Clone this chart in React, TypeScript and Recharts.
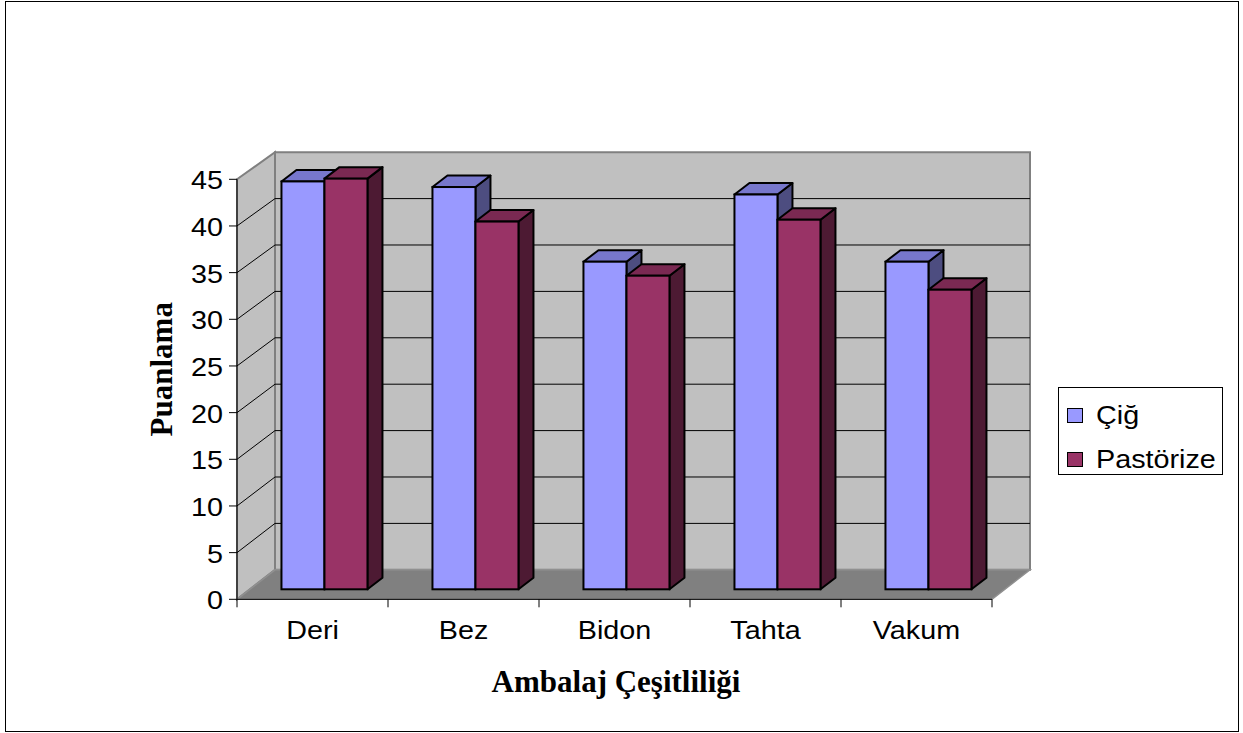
import React from 'react';
import { BarChart, Bar, XAxis, YAxis, CartesianGrid, Legend } from 'recharts';

const categories = ['Deri', 'Bez', 'Bidon', 'Tahta', 'Vakum'];
const cigValues = [43.7, 43.1, 35.1, 42.3, 35.1];
const pastorizeValues = [44.0, 39.4, 33.6, 39.6, 32.1];
const yTicks = [0, 5, 10, 15, 20, 25, 30, 35, 40, 45];
const seriesNames = ['Çiğ', 'Pastörize'];
const xTitle = 'Ambalaj Çeşitliliği';
const yTitle = 'Puanlama';

const data = categories.map((c, i) => ({ name: c, cig: cigValues[i], past: pastorizeValues[i] }));

const W = 1243;
const H = 733;
const PLOT_LEFT = 237;
const PLOT_RIGHT = 992;
const PLOT_TOP = 179.3;
const PLOT_BOTTOM = 599.3;
const YAXIS_W = 90;
const XAXIS_H = 60;
const WALL_DX = 38;
const BAR_DX = 12.3;
const BAR_DY = 10;
const DEPTH_X = 15;
const DEPTH_Y = 11.5;
const SX = 1.15;
const SANS = '"Liberation Sans", Arial, sans-serif';
const SERIF = '"Liberation Serif", "Times New Roman", serif';

const COLORS = {
  cig: { front: '#9999FF', top: '#7777CC', side: '#4D4D80' },
  past: { front: '#993366', top: '#7A2952', side: '#4D1A33' },
};

const backY = (y: number, bottom: number) => y - 29.5 + (bottom - y) * 0.0057;

const gridLine = (props: any) => {
  const { x, y, width, height, y1, index } = props;
  const bottom = y + height;
  const right = x + width;
  const bx = x + WALL_DX;
  const brx = right + WALL_DX;
  const bTop = backY(y, bottom);
  const bBot = backY(bottom, bottom);
  const isEdge = Math.abs(y1 - bottom) < 0.5 || Math.abs(y1 - y) < 0.5;
  return (
    <g key={props.key ?? `gl-${index}`}>
      {index === 0 && (
        <g>
          <polygon
            points={`${bx},${bTop} ${brx},${bTop} ${brx},${bBot} ${bx},${bBot}`}
            fill="#C0C0C0"
            stroke="#808080"
            strokeWidth={2}
          />
          <polygon
            points={`${x},${y} ${bx},${bTop} ${bx},${bBot} ${x},${bottom}`}
            fill="#C0C0C0"
            stroke="#808080"
            strokeWidth={2}
          />
          <polygon
            points={`${x},${bottom} ${right},${bottom} ${brx},${bBot} ${bx},${bBot}`}
            fill="#808080"
            stroke="#909090"
            strokeWidth={1.5}
          />
        </g>
      )}
      {!isEdge && (
        <polyline
          points={`${x},${y1} ${bx},${backY(y1, bottom)} ${brx},${backY(y1, bottom)}`}
          fill="none"
          stroke="#000"
          strokeWidth={1}
        />
      )}
    </g>
  );
};

const make3DBar = (c: { front: string; top: string; side: string }) => (props: any) => {
  const { x, y, width, height } = props;
  if (x == null || width == null || height == null) return null;
  const fx = x + BAR_DX;
  const fy = y - BAR_DY;
  const fb = y + height - BAR_DY;
  const w = width;
  return (
    <g>
      <polygon
        points={`${fx + w},${fy} ${fx + w + DEPTH_X},${fy - DEPTH_Y} ${fx + w + DEPTH_X},${fb - DEPTH_Y} ${fx + w},${fb}`}
        fill={c.side}
        stroke="#000"
        strokeWidth={2}
        strokeLinejoin="round"
      />
      <polygon
        points={`${fx},${fy} ${fx + w},${fy} ${fx + w + DEPTH_X},${fy - DEPTH_Y} ${fx + DEPTH_X},${fy - DEPTH_Y}`}
        fill={c.top}
        stroke="#000"
        strokeWidth={2}
        strokeLinejoin="round"
      />
      <rect x={fx} y={fy} width={w} height={fb - fy} fill={c.front} stroke="#000" strokeWidth={2} />
    </g>
  );
};

const YTick = (props: any) => {
  const { x, y, payload } = props;
  return (
    <text
      transform={`translate(${x},${y + 10}) scale(${SX},1)`}
      textAnchor="end"
      fontFamily={SANS}
      fontSize={25}
      fill="#000"
    >
      {payload.value}
    </text>
  );
};

const XTick = (props: any) => {
  const { x, payload, index } = props;
  const band = (PLOT_RIGHT - PLOT_LEFT) / categories.length;
  return (
    <g>
      <line x1={x - band / 2} y1={PLOT_BOTTOM} x2={x - band / 2} y2={PLOT_BOTTOM + 8} stroke="#000" />
      {index === categories.length - 1 && (
        <line x1={x + band / 2} y1={PLOT_BOTTOM} x2={x + band / 2} y2={PLOT_BOTTOM + 8} stroke="#000" />
      )}
      <text
        transform={`translate(${x},${PLOT_BOTTOM + 40}) scale(${SX},1)`}
        textAnchor="middle"
        fontFamily={SANS}
        fontSize={25}
        fill="#000"
      >
        {payload.value}
      </text>
    </g>
  );
};

const YTitle = (props: any) => {
  const vb = props.viewBox || {};
  const cx = vb.x + 24.7;
  const cy = vb.y + vb.height / 2 - 20;
  return (
    <text
      transform={`translate(${cx},${cy}) rotate(-90)`}
      textAnchor="middle"
      fontFamily={SERIF}
      fontWeight="bold"
      fontSize={31}
      fill="#000"
    >
      {yTitle}
    </text>
  );
};

const XTitle = (props: any) => {
  const vb = props.viewBox || {};
  const cx = vb.x + vb.width / 2 + 1.5;
  const cy = vb.y + 92.5;
  return (
    <text x={cx} y={cy} textAnchor="middle" fontFamily={SERIF} fontWeight="bold" fontSize={31} fill="#000">
      {xTitle}
    </text>
  );
};

const legendColors = [COLORS.cig.front, COLORS.past.front];

const LegendContent = () => (
  <div
    style={{
      width: 165,
      height: 88,
      boxSizing: 'border-box',
      border: '1px solid #000',
      background: '#fff',
      paddingTop: 6,
    }}
  >
    {seriesNames.map((n, i) => (
      <div key={n} style={{ display: 'flex', alignItems: 'center', height: 43.5, paddingLeft: 8 }}>
        <div
          style={{
            width: 16,
            height: 15,
            boxSizing: 'border-box',
            border: '1px solid #000',
            background: legendColors[i],
            marginRight: 13,
          }}
        />
        <span
          style={{
            fontFamily: SANS,
            fontSize: 25,
            color: '#000',
            display: 'inline-block',
            transform: `scaleX(${SX})`,
            transformOrigin: 'left center',
            whiteSpace: 'nowrap',
            lineHeight: 1,
          }}
        >
          {n}
        </span>
      </div>
    ))}
  </div>
);

export default function App() {
  return (
    <div style={{ position: 'absolute', left: 0, top: 0, width: W, height: H, background: '#fff' }}>
      <div
        style={{
          position: 'absolute',
          left: 5,
          top: 1,
          width: 1234,
          height: 731,
          boxSizing: 'border-box',
          border: '1px solid #000',
        }}
      />
      <div style={{ position: 'absolute', left: 0, top: 0 }}>
        <BarChart
          width={W}
          height={H}
          data={data}
          margin={{
            top: PLOT_TOP,
            right: W - PLOT_RIGHT,
            bottom: H - PLOT_BOTTOM - XAXIS_H,
            left: PLOT_LEFT - YAXIS_W,
          }}
          barGap={0}
          barCategoryGap="21.3%"
        >
          <CartesianGrid vertical={false} horizontal={gridLine} />
          <XAxis
            dataKey="name"
            height={XAXIS_H}
            axisLine={{ stroke: '#000', strokeWidth: 1 }}
            tickLine={false}
            tickSize={8}
            tickMargin={2}
            tick={<XTick />}
            interval={0}
            label={<XTitle />}
          />
          <YAxis
            width={YAXIS_W}
            domain={[0, 45]}
            ticks={yTicks}
            interval={0}
            axisLine={{ stroke: '#000', strokeWidth: 1 }}
            tickLine={{ stroke: '#000', strokeWidth: 1 }}
            tickSize={8}
            tickMargin={6}
            tick={<YTick />}
            label={<YTitle />}
          />
          <Legend
            layout="vertical"
            align="center"
            verticalAlign="middle"
            content={<LegendContent />}
            wrapperStyle={{ left: 1058, top: 387, width: 165, height: 88 }}
          />
          <Bar dataKey="cig" name={seriesNames[0]} isAnimationActive={false} shape={make3DBar(COLORS.cig)} />
          <Bar dataKey="past" name={seriesNames[1]} isAnimationActive={false} shape={make3DBar(COLORS.past)} />
        </BarChart>
      </div>
    </div>
  );
}
